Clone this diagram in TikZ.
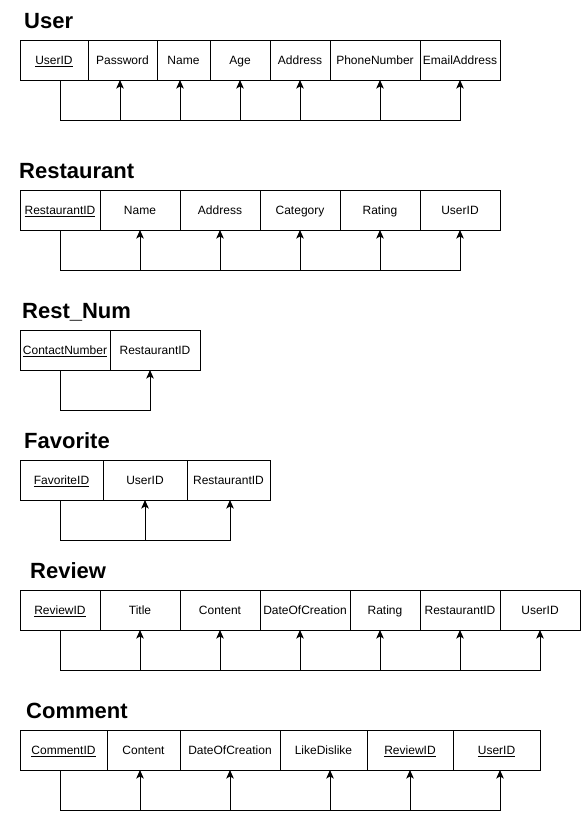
\documentclass[tikz,border=0pt]{standalone}
\usepackage{fontspec}
\setmainfont{Liberation Sans}
\usetikzlibrary{positioning,arrows.meta}

\begin{document}
\begin{tikzpicture}[x=1pt,y=-1pt,
    cell/.style={draw,line width=1pt,minimum height=40pt,inner sep=0pt,outer sep=0pt,
        text height=9.6pt,text depth=0pt,font=\fontsize{12}{14}\selectfont},
    first/.style={cell,anchor=north west},
    title/.style={anchor=base west,inner sep=0pt,font=\fontsize{22}{26}\selectfont\bfseries},
    fk/.style={line width=1pt,-{Stealth[length=8.5pt,width=7.5pt,inset=2pt]}}]
    \useasboundingbox (0,0) rectangle (581,820);

    % User
    \node[title] (tu) at (24,28) {User};
    \node[first,minimum width=68pt] (u1) at (20,40) {\underline{UserID}};
    \node[cell,minimum width=69pt,right=0pt of u1] (u2) {Password};
    \node[cell,minimum width=53pt,right=0pt of u2] (u3) {Name};
    \node[cell,minimum width=60pt,right=0pt of u3] (u4) {Age};
    \node[cell,minimum width=60pt,right=0pt of u4] (u5) {Address};
    \node[cell,minimum width=90pt,right=0pt of u5] (u6) {PhoneNumber};
    \node[cell,minimum width=80pt,right=0pt of u6] (u7) {EmailAddress};
    \foreach \t/\dx in {u2/-2.5,u3/-3.5,u4/0,u5/0,u6/5,u7/0}
        \draw[fk] ([xshift=6]u1.south) -- ++(0,40) -| ([xshift=\dx]\t.south);

    % Restaurant
    \node[title] (tr) at (19,178) {Restaurant};
    \node[first,minimum width=80pt] (r1) at (20,190) {\underline{RestaurantID}};
    \node[cell,minimum width=80pt,right=0pt of r1] (r2) {Name};
    \node[cell,minimum width=80pt,right=0pt of r2] (r3) {Address};
    \node[cell,minimum width=80pt,right=0pt of r3] (r4) {Category};
    \node[cell,minimum width=80pt,right=0pt of r4] (r5) {Rating};
    \node[cell,minimum width=80pt,right=0pt of r5] (r6) {UserID};
    \foreach \t in {r2,r3,r4,r5,r6}
        \draw[fk] (r1.south) -- ++(0,40) -| (\t.south);

    % Rest_Num
    \node[title] (tn) at (22,318) {Rest\_Num};
    \node[first,minimum width=90pt] (n1) at (20,330) {\underline{ContactNumber}};
    \node[cell,minimum width=90pt,right=0pt of n1] (n2) {RestaurantID};
    \draw[fk] ([xshift=-5]n1.south) -- ++(0,40) -| ([xshift=-5]n2.south);

    % Favorite
    \node[title] (tf) at (24,448) {Favorite};
    \node[first,minimum width=83pt] (f1) at (20,460) {\underline{FavoriteID}};
    \node[cell,minimum width=84pt,right=0pt of f1] (f2) {UserID};
    \node[cell,minimum width=83pt,right=0pt of f2] (f3) {RestaurantID};
    \foreach \t/\dx in {f2/0,f3/1.5}
        \draw[fk] ([xshift=-1.5]f1.south) -- ++(0,40) -| ([xshift=\dx]\t.south);

    % Review
    \node[title] (tv) at (30,578) {Review};
    \node[first,minimum width=80pt] (v1) at (20,590) {\underline{ReviewID}};
    \node[cell,minimum width=80pt,right=0pt of v1] (v2) {Title};
    \node[cell,minimum width=80pt,right=0pt of v2] (v3) {Content};
    \node[cell,minimum width=90pt,right=0pt of v3] (v4) {DateOfCreation};
    \node[cell,minimum width=70pt,right=0pt of v4] (v5) {Rating};
    \node[cell,minimum width=80pt,right=0pt of v5] (v6) {RestaurantID};
    \node[cell,minimum width=80pt,right=0pt of v6] (v7) {UserID};
    \foreach \t/\dx in {v2/0,v3/0,v4/-5,v5/-5,v6/0,v7/0}
        \draw[fk] (v1.south) -- ++(0,40) -| ([xshift=\dx]\t.south);

    % Comment
    \node[title] (tc) at (26,718) {Comment};
    \node[first,minimum width=87pt] (c1) at (20,730) {\underline{CommentID}};
    \node[cell,minimum width=73pt,right=0pt of c1] (c2) {Content};
    \node[cell,minimum width=100pt,right=0pt of c2] (c3) {DateOfCreation};
    \node[cell,minimum width=87pt,right=0pt of c3] (c4) {LikeDislike};
    \node[cell,minimum width=86pt,right=0pt of c4] (c5) {\underline{ReviewID}};
    \node[cell,minimum width=87pt,right=0pt of c5] (c6) {\underline{UserID}};
    \foreach \t/\dx in {c2/-3.5,c3/0,c4/6.5,c5/0,c6/3.5}
        \draw[fk] ([xshift=-3.5]c1.south) -- ++(0,40) -| ([xshift=\dx]\t.south);
\end{tikzpicture}
\end{document}
